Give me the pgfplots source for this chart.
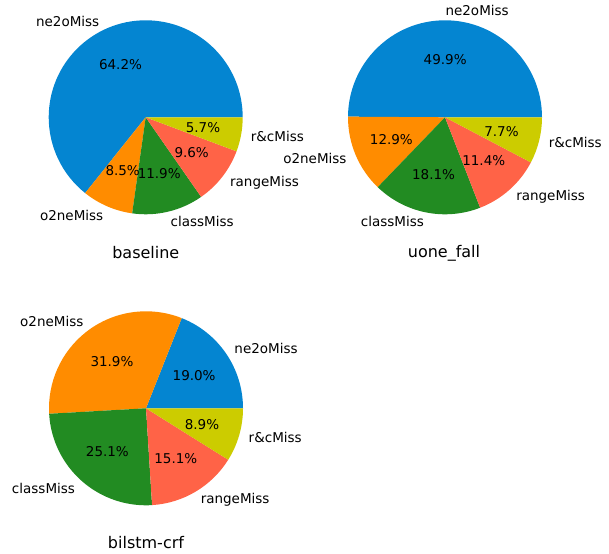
\documentclass[border=0pt]{standalone}
\usepackage{fontspec}
\setmainfont{DejaVu Sans}
\usepackage{pgfplots}
\pgfplotsset{compat=1.18}
\definecolor{cblue}{HTML}{0485D1}
\definecolor{corange}{HTML}{FF8C00}
\definecolor{cgreen}{HTML}{228B22}
\definecolor{cred}{HTML}{FF6347}
\definecolor{cyel}{HTML}{CCCC00}
\tikzset{lab/.style={font=\fontsize{13.5bp}{16bp}\selectfont, inner sep=0pt},
         ttl/.style={font=\fontsize{16bp}{19bp}\selectfont, inner sep=0pt, anchor=base}}
% \pie{cx}{cy}{total}{value/colour/label,...}
\newcommand\pie[4]{%
  \gdef\pieS{0}%
  \foreach \v/\c/\l in {#4}{%
    \pgfmathsetmacro\pieE{\pieS+(\v/#3)*360}%
    \edef\cmd{\noexpand\fill[\c] (axis cs:#1,#2) -- ++(\pieS:97bp) arc[start angle=\pieS, end angle=\pieE, radius=97bp] -- cycle;}%
    \cmd
    \xdef\pieS{\pieE}%
  }%
  \gdef\pieS{0}%
  \foreach \v/\c/\l in {#4}{%
    \pgfmathsetmacro\pieE{\pieS+(\v/#3)*360}%
    \pgfmathsetmacro\pieM{(\pieS+\pieE)/2}%
    \pgfmathsetmacro\lx{#1+1.1*97*cos(\pieM)}%
    \pgfmathsetmacro\ly{#2+1.1*97*sin(\pieM)}%
    \pgfmathsetmacro\px{#1+0.6*97*cos(\pieM)}%
    \pgfmathsetmacro\py{#2+0.6*97*sin(\pieM)}%
    \pgfmathsetmacro\cm{cos(\pieM)}%
    \ifdim\cm pt>0pt \def\anc{west}\else\def\anc{east}\fi
    \edef\cmd{\noexpand\node[lab, anchor=\anc] at (axis cs:\lx,\ly) {\l};
      \noexpand\node[lab] at (axis cs:\px,\py) {\v\%};}%
    \cmd
    \xdef\pieS{\pieE}%
  }%
}
\begin{document}
\begin{tikzpicture}
\begin{axis}[name=ax, hide axis, scale only axis, width=609bp, height=554bp,
  xmin=0, xmax=609, ymin=0, ymax=554, clip=false]
\pie{145.7}{436.7}{99.9}{64.2/cblue/ne2oMiss, 8.5/corange/o2neMiss, 11.9/cgreen/classMiss, 9.6/cred/rangeMiss, 5.7/cyel/r\&cMiss}
\pie{445}{436.7}{100}{49.9/cblue/ne2oMiss, 12.9/corange/o2neMiss, 18.1/cgreen/classMiss, 11.4/cred/rangeMiss, 7.7/cyel/r\&cMiss}
\pie{146}{145.7}{100}{19.0/cblue/ne2oMiss, 31.9/corange/o2neMiss, 25.1/cgreen/classMiss, 15.1/cred/rangeMiss, 8.9/cyel/r\&cMiss}
\node[ttl] at (axis cs:145.8,295.7) {baseline};
\node[ttl] at (axis cs:444,296.5) {uone\_fall};
\node[ttl] at (axis cs:146,5.7) {bilstm-crf};
\end{axis}
\pgfresetboundingbox
\path[use as bounding box] (ax.south west) rectangle (ax.north east);
\end{tikzpicture}
\end{document}
